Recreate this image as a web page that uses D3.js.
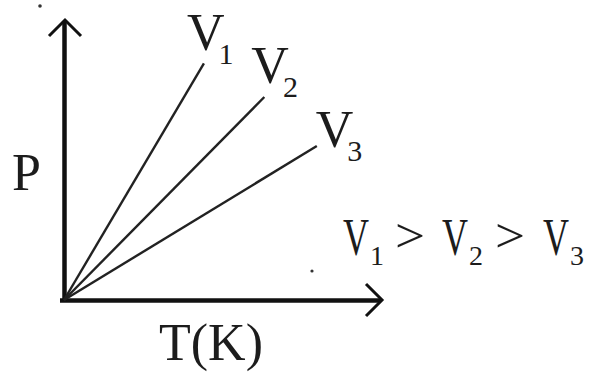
<!DOCTYPE html>
<html>
<head>
<meta charset="utf-8">
<script src="https://cdn.jsdelivr.net/npm/d3@7"></script>
<style>
  html, body { margin: 0; padding: 0; background: #fff; }
  svg { display: block; }
  svg text { font-family: "Liberation Serif", "Times New Roman", serif; fill: #1c1c1c; }
</style>
</head>
<body>
<svg id="chart" width="591" height="387"></svg>
<script>
// ---- data ----
const seriesNames = ["V", "V", "V"];
const seriesSubs = ["1", "2", "3"];
const endT = [4.4, 6.3, 7.95];   // temperature at line end (arbitrary units)
const endP = [8.45, 7.25, 5.5];  // pressure at line end (arbitrary units)
const xLabel = "T(K)";
const yLabel = "P";
const relation = [["V", "1"], [">", ""], ["V", "2"], [">", ""], ["V", "3"]];

// ---- layout ----
const svg = d3.select("#chart");
const x = d3.scaleLinear().domain([0, 10]).range([64, 382]);
const y = d3.scaleLinear().domain([0, 10]).range([300, 20]);

// axes (no ticks)
svg.append("g")
  .attr("transform", `translate(0,${y(0)})`)
  .call(d3.axisBottom(x).tickValues([]).tickSizeOuter(0))
  .call(g => g.select(".domain").attr("stroke", "#111").attr("stroke-width", 4.5)
    .attr("d", `M${x(0) - 4},0.5H${x(10) - 2}`));
svg.append("g")
  .attr("transform", `translate(${x(0)},0)`)
  .call(d3.axisLeft(y).tickValues([]).tickSizeOuter(0))
  .call(g => g.select(".domain").attr("stroke", "#111").attr("stroke-width", 4.5)
    .attr("d", `M0.5,${y(0) + 2}V${y(10) + 2}`));

// arrow heads (open chevrons)
const ah = 16;
svg.append("path")
  .attr("d", `M${x(10) - ah},${y(0) - ah}L${x(10)},${y(0)}L${x(10) - ah},${y(0) + ah}`)
  .attr("fill", "none").attr("stroke", "#111").attr("stroke-width", 3);
svg.append("path")
  .attr("d", `M${x(0) - ah + 1},${y(10) + ah}L${x(0) + 1},${y(10)}L${x(0) + ah + 1},${y(10) + ah}`)
  .attr("fill", "none").attr("stroke", "#111").attr("stroke-width", 3);

// isochore lines
const data = endT.map((t, i) => ({ name: seriesNames[i], sub: seriesSubs[i], t, p: endP[i] }));
const line = d3.line().x(d => x(d[0])).y(d => y(d[1]));
svg.selectAll("path.iso").data(data).join("path")
  .attr("class", "iso")
  .attr("d", d => line([[0, 0], [d.t, d.p]]))
  .attr("fill", "none").attr("stroke", "#222").attr("stroke-width", 2.4);

// line labels
const labOff = [[-17, -13], [-13, -14], [-1, 1]];
data.forEach((d, i) => {
  const t = svg.append("text")
    .attr("x", x(d.t) + labOff[i][0])
    .attr("y", y(d.p) + labOff[i][1])
    .attr("font-size", 52);
  t.append("tspan").text(d.name);
  t.append("tspan").attr("font-size", 30).attr("dx", -6).attr("dy", 14).text(d.sub);
});

// axis titles
svg.append("text").attr("x", 12).attr("y", 190).attr("font-size", 52).text(yLabel);
svg.append("text").attr("x", 159).attr("y", 360).attr("font-size", 52).text(xLabel);

// relation text V1 > V2 > V3
const relX = [343, 397, 442, 497, 543];
relation.forEach((r, i) => {
  if (r[0] === "V") {
    svg.append("text").attr("x", relX[i]).attr("y", 255).attr("font-size", 52)
      .attr("textLength", 26).attr("lengthAdjust", "spacingAndGlyphs").text(r[0]);
    svg.append("text").attr("x", relX[i] + 27).attr("y", 265).attr("font-size", 28).text(r[1]);
  } else {
    svg.append("text").attr("x", relX[i] - 2).attr("y", 252).attr("font-size", 48)
      .attr("textLength", 30).attr("lengthAdjust", "spacingAndGlyphs").text(r[0]);
  }
});

// small specks present in the original
svg.append("circle").attr("cx", 40).attr("cy", 6).attr("r", 1.8).attr("fill", "#333");
svg.append("circle").attr("cx", 312).attr("cy", 271).attr("r", 1.6).attr("fill", "#333");
</script>
</body>
</html>
